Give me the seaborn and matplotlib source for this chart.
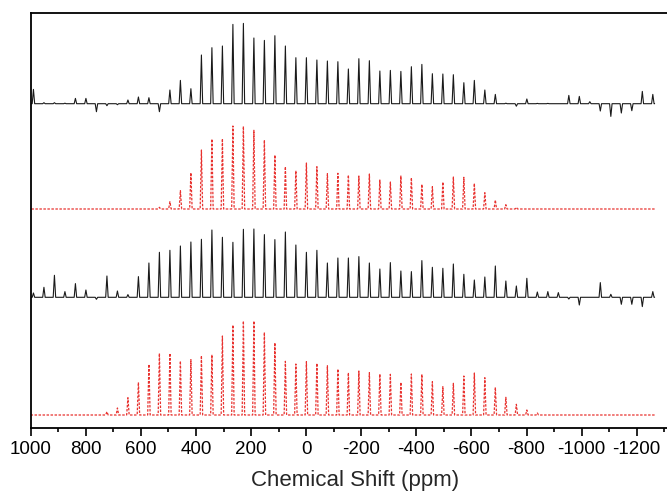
import numpy as np
import pandas as pd
import matplotlib
matplotlib.use('Agg')
import matplotlib.pyplot as plt
from matplotlib.ticker import MultipleLocator
import seaborn as sns

# spinning sideband positions (ppm)
sideband_ppm = [990.0, 951.9, 913.8, 875.7, 837.6, 799.5, 761.3, 723.2, 685.1, 647.0,
                608.9, 570.8, 532.7, 494.6, 456.5, 418.4, 380.2, 342.1, 304.0, 265.9,
                227.8, 189.7, 151.6, 113.5, 75.4, 37.3, -0.9, -39.0, -77.1, -115.2,
                -153.3, -191.4, -229.5, -267.6, -305.7, -343.9, -382.0, -420.1, -458.2, -496.3,
                -534.4, -572.5, -610.6, -648.7, -686.8, -725.0, -763.1, -801.2, -839.3, -877.4,
                -915.5, -953.6, -991.7, -1029.8, -1067.9, -1106.1, -1144.2, -1182.3, -1220.4, -1258.5]

# sideband intensities (arbitrary units) for the four stacked spectra, top to bottom
exp_top = [14.3, 1, 1, 0.5, 5.3, 5.3, -8, -2, -1, 3.7,
           6.7, 6, -8, 13.7, 23.3, 15, 48.7, 56, 57.7, 79.3,
           80.3, 65.7, 63.3, 68, 57.7, 46, 46, 43.7, 42.7, 42,
           34.7, 45, 43, 32.7, 33.3, 32.3, 37, 39.3, 30, 29.7,
           29, 21, 23.3, 13.7, 9.3, 0.5, -2.5, 4.7, 0.3, 0.3,
           0, 8.3, 7.3, 2, -7.3, -12.7, -9.3, -7, 12.3, 9.3]
sim_top = [0, 0, 0, 0, 0, 0, 0, 0, 0, 0,
           0, 0, 1.7, 7.3, 18.3, 36.3, 59, 70, 70.3, 83,
           82.7, 78.7, 69, 54, 42.3, 38.3, 46, 42.3, 35.3, 35.7,
           34, 33, 35, 29, 27, 33, 31.3, 24.7, 22.3, 27,
           32, 31.7, 25.7, 16.3, 9, 4.3, 1.7, 0, 0, 0,
           0, 0, 0, 0, 0, 0, 0, 0, 0, 0]
exp_bottom = [4.3, 10, 22, 5.7, 13.7, 7.3, -2, 21.3, 6.3, 2.7,
              20.7, 34.3, 45, 47, 51.3, 55.3, 58, 67.3, 60, 55,
              68, 68.3, 62.7, 57.7, 65.3, 52.3, 45, 47, 34.3, 39.3,
              39.3, 40.7, 34.3, 28.3, 34.7, 26.3, 25.7, 36.7, 30, 29,
              33.3, 23, 17.3, 20.3, 31.3, 16.3, 11.3, 19, 5.3, 5.7,
              4.7, -1.7, -7.7, 0, 14.7, 3, -7, -7, -9.3, 5.7]
sim_bottom = [0, 0, 0, 0, 0, 0, 0, 3.3, 7, 17.3,
              32.7, 50.7, 61.7, 61.7, 54, 55.3, 59.3, 60.3, 79, 90,
              94, 94, 82.7, 72.3, 53.7, 51, 53.3, 51.7, 49.3, 46,
              42.3, 44, 42.3, 41, 40.7, 32.7, 41, 40.7, 33.3, 28.3,
              31.7, 39, 42, 37.3, 27.7, 17.7, 10.7, 5, 2, 0,
              0, 0, 0, 0, 0, 0, 0, 0, 0, 0]

x_ticks = [1000, 800, 600, 400, 200, 0, -200, -400, -600, -800, -1000, -1200]


def stick_spectrum(heights, offset, half_width=4.5, start=1000, end=-1265):
    xs, ys = [start], [offset]
    for p, h in zip(sideband_ppm, heights):
        xs += [p + half_width, p, p - half_width]
        ys += [offset, offset + h, offset]
    xs.append(end)
    ys.append(offset)
    return pd.DataFrame({'ppm': xs, 'y': ys})


sns.set_style('ticks')
plt.rcParams['font.family'] = ['Liberation Sans', 'DejaVu Sans']

fig = plt.figure(figsize=(6.67, 4.96), dpi=100)
ax = fig.add_axes([0.046, 0.1371, 0.954, 0.8373])

traces = [(exp_top, 324.3, 'black'), (sim_top, 219, 'red'),
          (exp_bottom, 130.7, 'black'), (sim_bottom, 13, 'red')]
for heights, offset, kind in traces:
    df = stick_spectrum(heights, offset)
    if kind == 'black':
        sns.lineplot(data=df, x='ppm', y='y', ax=ax, color='#1a1a1a', linewidth=0.8,
                     estimator=None)
    else:
        sns.lineplot(data=df, x='ppm', y='y', ax=ax, color='#e8322f', linewidth=0.9,
                     linestyle=(0, (2, 1.2)), estimator=None)

ax.set_xlim(1000, -1310)
ax.set_ylim(0, 415.3)
ax.set_yticks([])
ax.set_ylabel('')
ax.set_xticks(x_ticks)
ax.set_xticklabels([str(t) for t in x_ticks])
ax.xaxis.set_minor_locator(MultipleLocator(100))
ax.tick_params(axis='x', which='major', direction='out', length=5.5, width=1.2,
               labelsize=13.5, pad=4, colors='black')
ax.tick_params(axis='x', which='minor', direction='out', length=3, width=1.2, colors='black')
for side in ['left', 'top', 'bottom']:
    ax.spines[side].set_linewidth(1.3)
    ax.spines[side].set_color('black')
ax.spines['right'].set_visible(False)
ax.set_xlabel('Chemical Shift (ppm)', fontsize=16)
ax.xaxis.set_label_coords(0.51, -0.101)

fig.savefig('out.png', dpi=100)
